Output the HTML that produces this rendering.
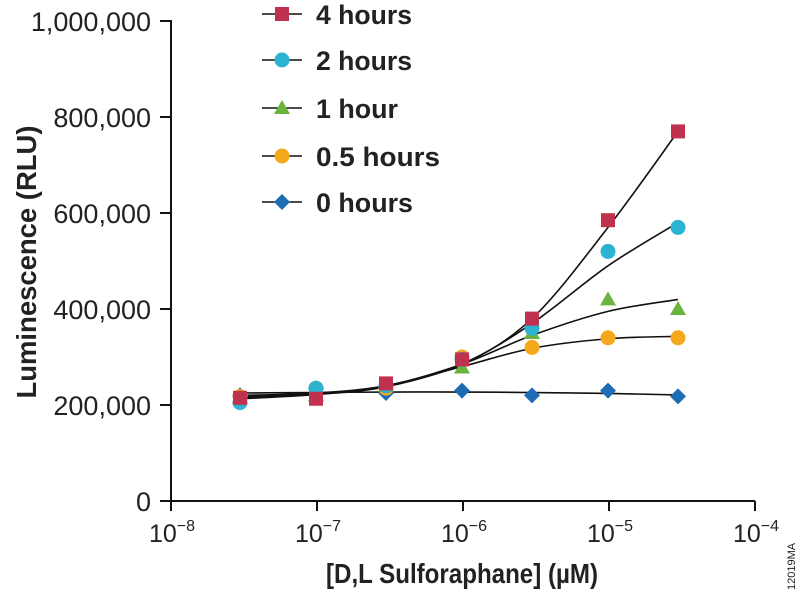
<!DOCTYPE html>
<html><head><meta charset="utf-8"><style>
body{margin:0;background:#fff;}
svg{display:block;font-family:"Liberation Sans",sans-serif;}
</style></head><body>
<svg id="s" width="800" height="593" viewBox="0 0 800 593" xmlns="http://www.w3.org/2000/svg">
<g stroke="#111" stroke-width="2" fill="none">
<line x1="171" y1="20" x2="171" y2="502"/>
<line x1="170" y1="501" x2="755" y2="501"/>
</g>
<g id="ticks" stroke="#111" stroke-width="2"></g>
<g font-size="27" fill="#222" text-anchor="end" id="yl"></g>
<g font-size="25" fill="#222" text-anchor="middle" id="xl"></g>
<text x="-262" y="36" transform="rotate(-90)" text-anchor="middle" font-size="28" font-weight="bold" fill="#222" textLength="273" lengthAdjust="spacingAndGlyphs">Luminescence (RLU)</text>
<text x="326" y="583" font-size="28" font-weight="bold" fill="#222" textLength="272" lengthAdjust="spacingAndGlyphs">[D,L Sulforaphane] (µM)</text>
<text transform="translate(795,590) rotate(-90)" font-size="11" fill="#222">12019MA</text>
<g id="curves" stroke="#111" stroke-width="1.6" fill="none"></g>
<g id="marks"></g>
<g id="leg"></g>
</svg>
<script>
const NS="http://www.w3.org/2000/svg";
function el(p,t,a,txt){const e=document.createElementNS(NS,t);for(const k in a)e.setAttribute(k,a[k]);if(txt!==undefined)e.textContent=txt;document.getElementById(p).appendChild(e);return e;}
const Y=v=>501-v*0.48;
const xs=[240,316,386,462,532,608,678];
[0,200,400,600,800,1000].forEach(v=>{el("ticks","line",{x1:160,y1:Y(v),x2:171,y2:Y(v)});
 el("yl","text",{x:151,y:Y(v)+10},v==0?"0":v==1000?"1,000,000":v+",000");});
[-8,-7,-6,-5,-4].forEach((p,i)=>{const x=171+146*i;el("ticks","line",{x1:x,y1:501,x2:x,y2:511});
 const t=el("xl","text",{x:x+1,y:542});t.innerHTML='10<tspan dy="-11" font-size="16">−'+(-p)+'</tspan>';});
const series=[
 {c:"#c0304f",m:"sq",d:[215,213,245,295,380,585,770],f:[213,222,240,285,380,570,770],n:"4 hours",ly:14,w:96},
 {c:"#2bb3d1",m:"ci",d:[205,235,240,295,360,520,570],f:[215,222,238,285,370,490,580],n:"2 hours",ly:60,w:96},
 {c:"#6ab33e",m:"tr",d:[215,220,240,278,350,420,400],f:[218,224,240,285,345,395,420],n:"1 hour",ly:108,w:82},
 {c:"#f6a81c",m:"ci",d:[218,235,235,300,320,340,340],f:[220,225,240,280,318,338,343],n:"0.5 hours",ly:156,w:124},
 {c:"#1c6db3",m:"di",d:[220,235,225,230,220,230,218],f:[225,226,227,227,226,224,221],n:"0 hours",ly:202,w:97}];
function mark(g,type,x,y,c){
 if(type=="sq")el(g,"rect",{x:x-7,y:y-7,width:14,height:14,fill:c});
 else if(type=="ci")el(g,"circle",{cx:x,cy:y,r:7.5,fill:c});
 else if(type=="tr")el(g,"polygon",{points:`${x},${y-8} ${x+8},${y+6} ${x-8},${y+6}`,fill:c});
 else el(g,"polygon",{points:`${x},${y-8} ${x+8},${y} ${x},${y+8} ${x-8},${y}`,fill:c});
}
series.slice().reverse().forEach(s=>{s.d.forEach((v,i)=>mark("marks",s.m,xs[i],Y(v),s.c));});
series.forEach(s=>{
 const P=s.f.map((v,i)=>[xs[i],Y(v)]);let d="M"+P[0];
 for(let i=0;i<P.length-1;i++){const p0=P[Math.max(0,i-1)],p1=P[i],p2=P[i+1],p3=P[Math.min(P.length-1,i+2)];
  d+=` C${p1[0]+(p2[0]-p0[0])/6},${p1[1]+(p2[1]-p0[1])/6} ${p2[0]-(p3[0]-p1[0])/6},${p2[1]-(p3[1]-p1[1])/6} ${p2[0]},${p2[1]}`;}
 el("curves","path",{d});
 el("leg","line",{x1:262,y1:s.ly,x2:302,y2:s.ly,stroke:"#111","stroke-width":1.6});
 mark("leg",s.m,282,s.ly,s.c);
 el("leg","text",{x:316,y:s.ly+10,"font-size":27,"font-weight":"bold",fill:"#222",textLength:s.w,lengthAdjust:"spacingAndGlyphs"},s.n);
});
</script>
</body></html>
